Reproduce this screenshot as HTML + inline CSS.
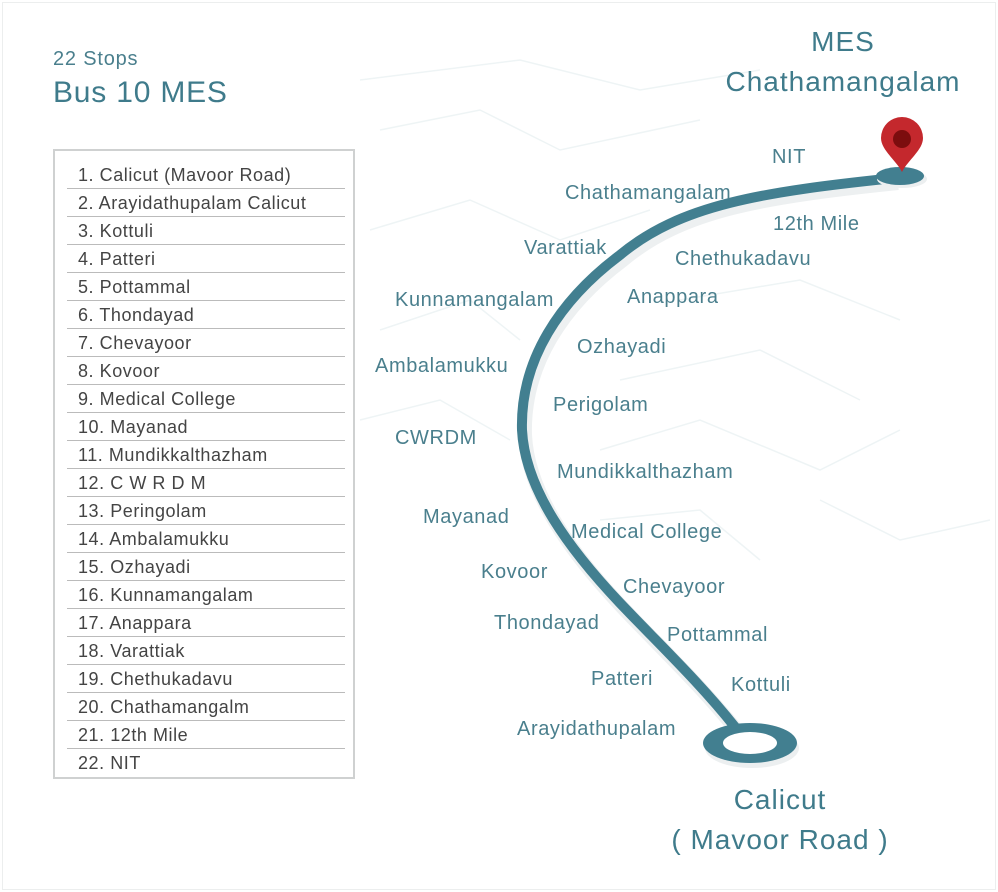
<!DOCTYPE html>
<html><head><meta charset="utf-8"><style>
html,body{margin:0;padding:0;background:#fff;}
body{width:998px;height:892px;position:relative;overflow:hidden;font-family:"Liberation Sans",sans-serif;}
.frame{position:absolute;left:2px;top:2px;width:992px;height:886px;border:1px solid #eceeee;}
.t{position:absolute;color:#4a7f8d;font-size:20px;letter-spacing:0.6px;white-space:nowrap;line-height:1;transform:translateY(-50%);}
.big{position:absolute;color:#3f7b8b;font-size:28px;letter-spacing:1px;white-space:nowrap;line-height:1;transform:translate(-50%,-50%);}
.list{position:absolute;left:53px;top:149px;width:302px;height:630px;border:2px solid #cfd1d1;box-sizing:border-box;}
.row{position:absolute;left:12px;width:278px;height:28px;font-size:18px;letter-spacing:0.55px;color:#444;line-height:28px;box-sizing:border-box;padding-left:11px;}
.row.b{border-bottom:1px solid #bbb;}
</style></head><body>
<div class="frame"></div>
<svg width="998" height="892" style="position:absolute;left:0;top:0">
<g stroke="#eef4f5" stroke-width="1.5" fill="none">
<path d="M360 80 L520 60 L640 90 L760 70 M380 130 L480 110 L560 150 L700 120 M370 230 L470 200 L560 240 L650 210 M380 330 L470 300 L520 340 M360 420 L440 400 L510 440 M600 450 L700 420 L820 470 L900 430 M620 380 L760 350 L860 400 M680 300 L800 280 L900 320 M820 500 L900 540 L990 520 M600 520 L700 510 L760 560"/>
</g>
<path d="M735 727 C700 683 660 645 620 603 C570 550 525 490 522 430 C520 360 560 300 620 255 C680 205 760 192 895 178" stroke="#edf0f1" stroke-width="14" fill="none" transform="translate(3,5)"/>
<path d="M735 727 C700 683 660 645 620 603 C570 550 525 490 522 430 C520 360 560 300 620 255 C680 205 760 192 895 178" stroke="#427f90" stroke-width="10" fill="none" stroke-linecap="round"/>
<ellipse cx="752" cy="748" rx="47" ry="20" fill="#eceff0"/>
<ellipse cx="750" cy="743" rx="47" ry="20" fill="#427f90"/>
<ellipse cx="750" cy="743" rx="27" ry="11" fill="#fff"/>
<ellipse cx="902" cy="179" rx="25" ry="9" fill="#eceff0"/>
<ellipse cx="900" cy="176" rx="24" ry="9" fill="#427f90"/>
<path d="M902 172 C896 160 881 150 881 138 A21 21 0 0 1 923 138 C923 150 908 160 902 172 Z" fill="#c4282d"/>
<circle cx="902" cy="139" r="9" fill="#7c0d0e"/>
</svg>
<div style="position:absolute;left:53px;top:48px;font-size:20px;letter-spacing:0.8px;color:#4a7f8d;">22 Stops</div>
<div style="position:absolute;left:53px;top:76px;font-size:30px;letter-spacing:0.8px;color:#3f7b8b;">Bus 10 MES</div>
<div class="list">
<div class="row b" style="top:10px">1. Calicut (Mavoor Road)</div>
<div class="row b" style="top:38px">2. Arayidathupalam Calicut</div>
<div class="row b" style="top:66px">3. Kottuli</div>
<div class="row b" style="top:94px">4. Patteri</div>
<div class="row b" style="top:122px">5. Pottammal</div>
<div class="row b" style="top:150px">6. Thondayad</div>
<div class="row b" style="top:178px">7. Chevayoor</div>
<div class="row b" style="top:206px">8. Kovoor</div>
<div class="row b" style="top:234px">9. Medical College</div>
<div class="row b" style="top:262px">10. Mayanad</div>
<div class="row b" style="top:290px">11. Mundikkalthazham</div>
<div class="row b" style="top:318px">12. C W R D M</div>
<div class="row b" style="top:346px">13. Peringolam</div>
<div class="row b" style="top:374px">14. Ambalamukku</div>
<div class="row b" style="top:402px">15. Ozhayadi</div>
<div class="row b" style="top:430px">16. Kunnamangalam</div>
<div class="row b" style="top:458px">17. Anappara</div>
<div class="row b" style="top:486px">18. Varattiak</div>
<div class="row b" style="top:514px">19. Chethukadavu</div>
<div class="row b" style="top:542px">20. Chathamangalm</div>
<div class="row b" style="top:570px">21. 12th Mile</div>
<div class="row" style="top:598px">22. NIT</div>
</div>
<div class="big" style="left:843px;top:42px">MES</div>
<div class="big" style="left:843px;top:82px">Chathamangalam</div>
<div class="big" style="left:780px;top:800px">Calicut</div>
<div class="big" style="left:780px;top:840px">( Mavoor Road )</div>
<div class="t" style="left:772px;top:157px">NIT</div>
<div class="t" style="left:565px;top:193px">Chathamangalam</div>
<div class="t" style="left:773px;top:224px">12th Mile</div>
<div class="t" style="left:524px;top:248px">Varattiak</div>
<div class="t" style="left:675px;top:259px">Chethukadavu</div>
<div class="t" style="left:395px;top:300px">Kunnamangalam</div>
<div class="t" style="left:627px;top:297px">Anappara</div>
<div class="t" style="left:577px;top:347px">Ozhayadi</div>
<div class="t" style="left:375px;top:366px">Ambalamukku</div>
<div class="t" style="left:553px;top:405px">Perigolam</div>
<div class="t" style="left:395px;top:438px">CWRDM</div>
<div class="t" style="left:557px;top:472px">Mundikkalthazham</div>
<div class="t" style="left:423px;top:517px">Mayanad</div>
<div class="t" style="left:571px;top:532px">Medical College</div>
<div class="t" style="left:481px;top:572px">Kovoor</div>
<div class="t" style="left:623px;top:587px">Chevayoor</div>
<div class="t" style="left:494px;top:623px">Thondayad</div>
<div class="t" style="left:667px;top:635px">Pottammal</div>
<div class="t" style="left:591px;top:679px">Patteri</div>
<div class="t" style="left:731px;top:685px">Kottuli</div>
<div class="t" style="left:517px;top:729px">Arayidathupalam</div>
</body></html>
